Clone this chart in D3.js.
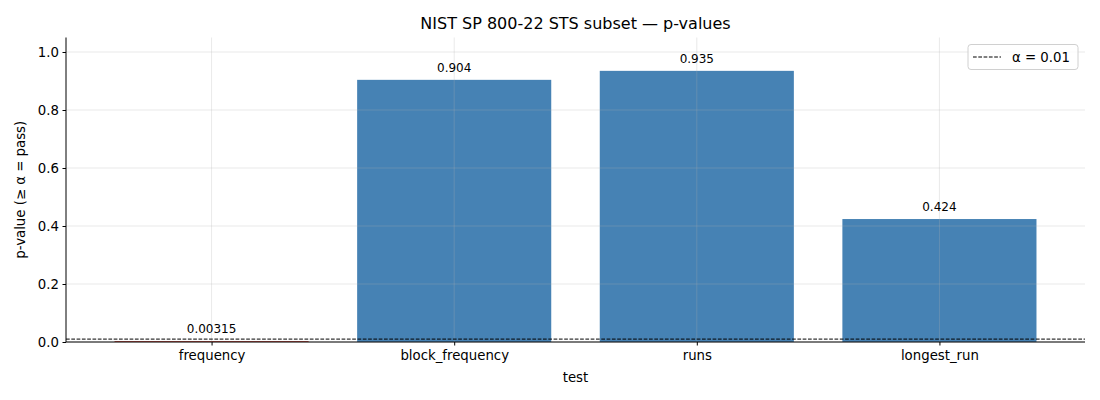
<!DOCTYPE html>
<html><head><meta charset="utf-8">
<script src="https://cdn.jsdelivr.net/npm/d3@7"></script>
<style>body{margin:0;background:#fff}svg{font-family:"DejaVu Sans",sans-serif}</style>
</head><body><svg id="c" width="1100" height="400"></svg>
<script>
const tests = ["frequency","block_frequency","runs","longest_run"];
const pvalues = [0.00315, 0.904, 0.935, 0.424];
const labels = ["0.00315","0.904","0.935","0.424"];
const yTicks = [0.0,0.2,0.4,0.6,0.8,1.0];
const alpha = 0.01;

const svg = d3.select("#c");
const L=66, R=1085, T=37.5, B=342;
const x = d3.scaleLinear().domain([-0.6, 3.6]).range([L, R]);
const y = d3.scaleLinear().domain([0, 1.05]).range([B, T]);
const bw = x(0.4)-x(-0.4);

// bars
svg.selectAll("rect.bar").data(pvalues).enter().append("rect")
  .attr("x",(d,i)=>x(i)-bw/2).attr("width",bw)
  .attr("y",d=>y(d)).attr("height",d=>y(0)-y(d))
  .attr("fill",d=>d>=alpha?"#4682b4":"#c0392b");

// grid on top
const g = svg.append("g");
g.selectAll("line.gy").data(yTicks).enter().append("line")
  .attr("x1",L).attr("x2",R).attr("y1",d=>y(d)).attr("y2",d=>y(d))
  .attr("stroke","#b0b0b0").attr("stroke-opacity",0.35).attr("stroke-width",0.8);
g.selectAll("line.gx").data(tests).enter().append("line")
  .attr("x1",(d,i)=>x(i)).attr("x2",(d,i)=>x(i)).attr("y1",T).attr("y2",B)
  .attr("stroke","#b0b0b0").attr("stroke-opacity",0.35).attr("stroke-width",0.8);

// alpha line
svg.append("line").attr("x1",L).attr("x2",R).attr("y1",y(alpha)).attr("y2",y(alpha))
  .attr("stroke","#000").attr("stroke-width",1).attr("stroke-dasharray","3.7,1.6");

// value labels
svg.selectAll("text.v").data(pvalues).enter().append("text")
  .attr("x",(d,i)=>x(i)).attr("y",d=>y(d)-8).attr("text-anchor","middle")
  .attr("font-size","12px").attr("fill","#000").text((d,i)=>labels[i]);

// axes
const xa = svg.append("g").attr("transform",`translate(0,${B})`)
  .call(d3.axisBottom(x).tickValues([0,1,2,3]).tickFormat(i=>tests[i]).tickSizeOuter(0).tickSize(3.5).tickPadding(5.5));
xa.select(".domain").attr("d",`M${L},0H${R}`).attr("stroke-width",1);
const ya = svg.append("g").attr("transform",`translate(${L},0)`)
  .call(d3.axisLeft(y).tickValues(yTicks).tickFormat(d3.format(".1f")).tickSizeOuter(0).tickSize(3.5).tickPadding(3.5));
ya.select(".domain").attr("d",`M0,${B}V${T}`).attr("stroke-width",1);
svg.selectAll(".tick text").attr("font-size","13.3px").attr("font-family","DejaVu Sans").attr("fill","#000");
svg.selectAll(".tick line").attr("stroke","#000");

// title and labels
svg.append("text").attr("x",(L+R)/2).attr("y",29).attr("text-anchor","middle")
  .attr("font-size","16px").text("NIST SP 800-22 STS subset — p-values");
svg.append("text").attr("x",(L+R)/2).attr("y",382).attr("text-anchor","middle")
  .attr("font-size","13.3px").text("test");
svg.append("text").attr("transform",`translate(25,${(T+B)/2}) rotate(-90)`).attr("text-anchor","middle")
  .attr("font-size","13.3px").text("p-value (≥ α = pass)");

// legend
const lg = svg.append("g");
lg.append("rect").attr("x",968).attr("y",44.5).attr("width",110).attr("height",25).attr("rx",3)
  .attr("fill","#fff").attr("fill-opacity",0.8).attr("stroke","#d0d0d0");
lg.append("line").attr("x1",973).attr("x2",1001).attr("y1",57).attr("y2",57)
  .attr("stroke","#000").attr("stroke-dasharray","3.7,1.6");
lg.append("text").attr("x",1012).attr("y",61.5).attr("font-size","13.3px").text("α = 0.01");
</script></body></html>
